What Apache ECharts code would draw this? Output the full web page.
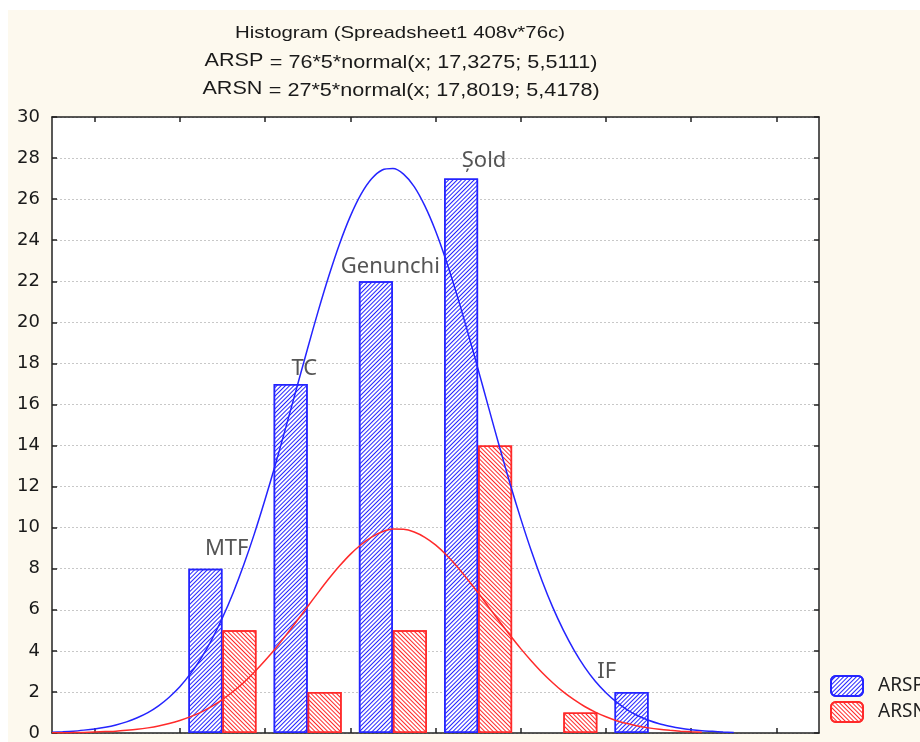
<!DOCTYPE html>
<html>
<head>
<meta charset="utf-8">
<script src="https://cdn.jsdelivr.net/npm/echarts@6/dist/echarts.min.js"></script>
<style>
html,body{margin:0;padding:0;background:#ffffff;}
#c{width:920px;height:742px;}
</style>
</head>
<body>
<div id="c"></div>
<script>
// ---- data ----
var binCenters = [7.5, 12.5, 17.5, 22.5, 27.5, 32.5];
var arspCounts = [8, 17, 22, 27, 0, 2];
var arsnCounts = [5, 2, 5, 14, 1, 0];
var curveX = [-2.5, -1.875, -1.25, -0.625, 0, 0.625, 1.25, 1.875, 2.5, 3.125, 3.75, 4.375, 5, 5.625, 6.25, 6.875,
  7.5, 8.125, 8.75, 9.375, 10, 10.625, 11.25, 11.875, 12.5, 13.125, 13.75, 14.375, 15, 15.625, 16.25, 16.875,
  17.5, 18.125, 18.75, 19.375, 20, 20.625, 21.25, 21.875, 22.5, 23.125, 23.75, 24.375, 25, 25.625, 26.25, 26.875,
  27.5, 28.125, 28.75, 29.375, 30, 30.625, 31.25, 31.875, 32.5, 33.125, 33.75, 34.375, 35, 35.625, 36.25, 36.875, 37.5];
var arspCurve = [0.04, 0.06, 0.09, 0.14, 0.20, 0.28, 0.39, 0.54, 0.74, 0.99, 1.32, 1.74, 2.25, 2.89, 3.65, 4.55,
  5.61, 6.82, 8.19, 9.71, 11.37, 13.13, 14.98, 16.86, 18.74, 20.57, 22.28, 23.83, 25.16, 26.23, 26.99, 27.42,
  27.49, 27.22, 26.61, 25.67, 24.46, 23.00, 21.35, 19.57, 17.71, 15.82, 13.95, 12.14, 10.44, 8.86, 7.42, 6.13,
  5.01, 4.04, 3.21, 2.52, 1.96, 1.50, 1.13, 0.84, 0.62, 0.45, 0.33, 0.23, 0.16, 0.11, 0.08, 0.05, 0.03];
var arsnCurve = [0.01, 0.01, 0.02, 0.03, 0.05, 0.07, 0.09, 0.13, 0.18, 0.25, 0.34, 0.46, 0.61, 0.80, 1.02, 1.30,
  1.63, 2.02, 2.46, 2.97, 3.53, 4.13, 4.79, 5.47, 6.16, 6.85, 7.52, 8.14, 8.70, 9.17, 9.54, 9.80,
  9.93, 9.92, 9.79, 9.53, 9.16, 8.68, 8.12, 7.49, 6.83, 6.13, 5.44, 4.76, 4.11, 3.51, 2.95, 2.45,
  2.00, 1.62, 1.29, 1.02, 0.79, 0.60, 0.46, 0.34, 0.25, 0.18, 0.13, 0.09, 0.06, 0.04, null, null, null];
var annotations = [
  ['MTF', 7.75, 8.95],
  ['TC', 12.3, 17.75],
  ['Genunchi', 17.35, 22.7],
  ['\u0218old', 22.85, 27.85],
  ['IF', 30.05, 3.0]
];
var xTicks = [0, 5, 10, 15, 20, 25, 30, 35, 40];
var titleText = 'Histogram (Spreadsheet1 408v*76c)';
var fitARSP = '= 76*5*normal(x; 17,3275; 5,5111)';
var fitARSN = '= 27*5*normal(x; 17,8019; 5,4178)';

function pairs(xs, ys) {
  var out = [];
  for (var i = 0; i < xs.length; i++) {
    if (ys[i] === null || ys[i] === 0) continue;
    out.push([xs[i], ys[i]]);
  }
  return out;
}

var BLUE = '#2424ff';
var RED = '#ff2a2a';
var TFONT = '"Liberation Sans", Arial, sans-serif';

var chart = echarts.init(document.getElementById('c'), null, {renderer: 'canvas'});

var xAxisBase = {
  type: 'value', min: -2.5, max: 42.5,
  axisLine: {show: true, onZero: false, lineStyle: {color: '#222', width: 1.5}},
  axisTick: {show: true, inside: true, length: 5, customValues: xTicks, lineStyle: {color: '#222', width: 1.5}},
  axisLabel: {show: false},
  splitLine: {show: false}
};
var yAxisBase = {
  type: 'value', min: 0, max: 30, interval: 2,
  axisLine: {show: true, onZero: false, lineStyle: {color: '#222', width: 1.5}},
  axisTick: {show: true, inside: true, length: 5, lineStyle: {color: '#222', width: 1.5}},
  splitLine: {show: false}
};

function fitLine(name, fit, y) {
  return {type: 'text', x: 401, y: y, scaleX: 1.2, scaleY: 1, style: {
    text: '{a|' + name + '} {b|' + fit + '}', align: 'center', verticalAlign: 'middle',
    rich: {
      a: {fill: '#1a1a1a', font: '18px ' + TFONT, padding: [0, 2, 4, 0]},
      b: {fill: '#1a1a1a', font: '18px ' + TFONT}
    }}};
}

var option = {
  backgroundColor: '#ffffff',
  animation: false,
  graphic: [
    {type: 'rect', shape: {x: 8, y: 10, width: 912, height: 732}, style: {fill: '#fdf9ee'}, z: -10, silent: true},
    {type: 'text', x: 400, y: 33, scaleX: 1.2, scaleY: 1, style: {text: titleText, fill: '#1a1a1a', font: '17px ' + TFONT, align: 'center', verticalAlign: 'middle'}},
    fitLine('ARSP', fitARSP, 63),
    fitLine('ARSN', fitARSN, 91)
  ],
  grid: {left: 52, right: 101, top: 117, bottom: 4, show: true, backgroundColor: '#ffffff', borderWidth: 0},
  legend: {
    orient: 'vertical', left: 830, top: 675, padding: 0, itemWidth: 32, itemHeight: 20, itemGap: 4,
    data: ['ARSP', 'ARSN'],
    textStyle: {color: '#222', fontSize: 19, fontFamily: '"Noto Sans", sans-serif', padding: [0, 0, 0, 10]}
  },
  xAxis: [
    Object.assign({}, xAxisBase, {position: 'bottom'}),
    Object.assign({}, xAxisBase, {position: 'top'})
  ],
  yAxis: [
    Object.assign({}, yAxisBase, {position: 'left',
      axisLabel: {show: true, margin: 12, color: '#1a1a1a', fontSize: 18, fontFamily: '"DejaVu Sans", sans-serif'},
      splitLine: {show: true, lineStyle: {color: '#c8c8c8', type: [2, 2], width: 1}}
    }),
    Object.assign({}, yAxisBase, {position: 'right', axisLabel: {show: false}})
  ],
  series: [
    {
      name: 'ARSP', type: 'bar', barWidth: 34, barGap: '0%',
      data: pairs(binCenters, arspCounts),
      itemStyle: {color: '#ffffff', borderColor: BLUE, borderWidth: 1.5,
        decal: {symbol: 'rect', symbolSize: 1, dashArrayX: [1, 0], dashArrayY: [1, 2], rotation: -Math.PI / 4, color: BLUE}},
      z: 2
    },
    {
      name: 'ARSN', type: 'bar', barWidth: 34, barGap: '0%',
      data: pairs(binCenters, arsnCounts),
      itemStyle: {color: '#ffffff', borderColor: RED, borderWidth: 1.5,
        decal: {symbol: 'rect', symbolSize: 1, dashArrayX: [1, 0], dashArrayY: [1, 2], rotation: Math.PI / 4, color: RED}},
      z: 2
    },
    {
      name: 'ARSP fit', type: 'line', smooth: 0.3, symbol: 'none',
      data: pairs(curveX, arspCurve),
      lineStyle: {color: BLUE, width: 1.5}, z: 5, silent: true
    },
    {
      name: 'ARSN fit', type: 'line', smooth: 0.3, symbol: 'none',
      data: pairs(curveX, arsnCurve),
      lineStyle: {color: RED, width: 1.5}, z: 5, silent: true
    },
    {
      name: 'labels', type: 'scatter', symbolSize: 0,
      data: annotations.map(function (a) { return {name: a[0], value: [a[1], a[2]]}; }),
      label: {show: true, position: 'inside', formatter: '{b}', color: '#2b2b2b',
        fontSize: 22, fontFamily: '"Noto Sans", sans-serif'},
      z: 6, silent: true
    }
  ]
};
chart.setOption(option);
</script>
</body>
</html>
